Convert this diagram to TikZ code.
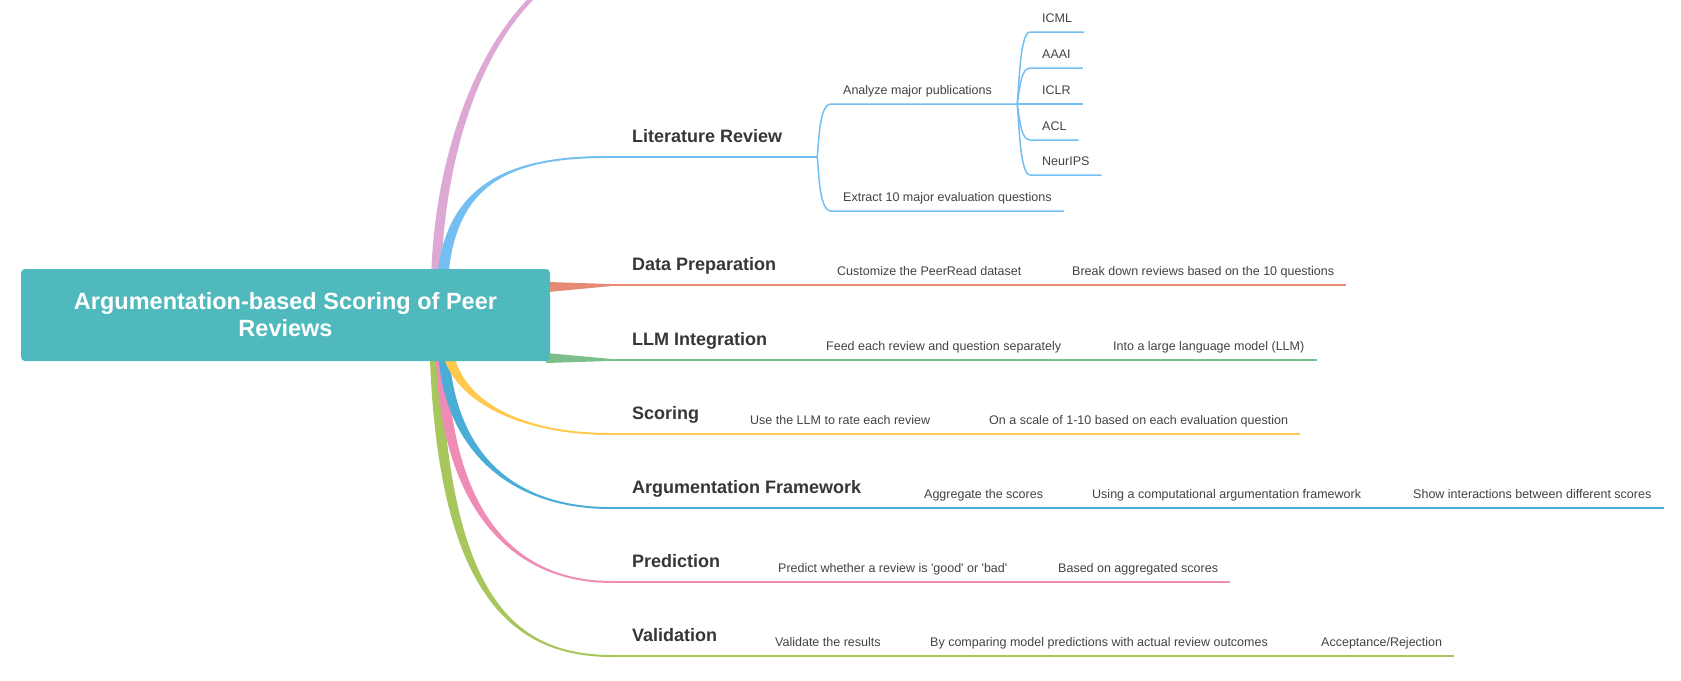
\documentclass[tikz,border=0pt]{standalone}
\usepackage{fontspec}
\setmainfont{Liberation Sans}
\usetikzlibrary{calc}

\definecolor{rootC}{HTML}{4FB9BD}
\definecolor{textC}{HTML}{363636}
\definecolor{leafC}{HTML}{424242}
\definecolor{orchidC}{HTML}{DDA8D3}
\definecolor{litC}{HTML}{74BFF1}
\definecolor{dataC}{HTML}{E68A74}
\definecolor{llmC}{HTML}{7DBF8C}
\definecolor{scoreC}{HTML}{FFC94F}
\definecolor{argC}{HTML}{4AADD5}
\definecolor{predC}{HTML}{EE8CB6}
\definecolor{valC}{HTML}{A7C65B}

% tapered limb: colour, start, control 1, control 2, end, half width at start, half width at end
\newcommand{\taperlimb}[7]{%
	\fill[#1] ($(#2)+({-(#6)},0)$) .. controls ($(#3)+({-(#6)},0)$) and ($(#4)+(0,{-(#7)})$) .. ($(#5)+(0,{-(#7)})$)
	-- ($(#5)+(0,#7)$) .. controls ($(#4)+(0,#7)$) and ($(#3)+(#6,0)$) .. ($(#2)+(#6,0)$) -- cycle;}

\begin{document}
\begin{tikzpicture}[x=1pt,y=-1pt,
	rootbox/.style={fill=rootC,rounded corners=4pt,text=white,font=\bfseries\fontsize{23.5}{27}\selectfont,
		align=center,minimum width=529pt,minimum height=92pt,inner sep=0pt},
	topic/.style={anchor=south west,text=textC,font=\bfseries\fontsize{18}{20}\selectfont,
		inner sep=0pt,text depth=14pt},
	leaf/.style={anchor=south west,text=leafC,font=\fontsize{12.5}{14}\selectfont,
		inner xsep=12pt,inner ysep=0pt,text depth=9.5pt},
	twig/.style={line width=1.8pt},
	thin/.style={line width=1.5pt}]
	\useasboundingbox (0,0) rectangle (1681,680);
	\clip (0,0) rectangle (1681,680);
	% Limbs out of the root
	\taperlimb{orchidC}{436,285}{438,120}{510,-50}{640,-50}{5}{2.5}
	\taperlimb{litC}{442,285}{448,190}{500,157}{606,157}{5.5}{1}
	\fill[dataC] (548,282) -- (613,284.1) -- (613,285.9) -- (548,292) -- cycle;
	\fill[llmC] (546,353) -- (613,359.1) -- (613,360.9) -- (546,363) -- cycle;
	\taperlimb{valC}{435,345}{442,600}{515,657}{615,656}{-5.5}{1}
	\taperlimb{predC}{441,345}{444,520}{520,582}{612,582}{-5.5}{1}
	\taperlimb{argC}{443,345}{448,460}{520,508}{610,508}{-5.5}{1}
	\taperlimb{scoreC}{447,345}{452,400}{520,434}{610,434}{-5.5}{1}
	% Root
	\node[rootbox] (root) at (285.5,315) {Argumentation-based Scoring of Peer\\Reviews};
	% Topics
	\node[topic] (lit) at (632,157) {Literature Review};
	\node[topic] (data) at (632,285) {Data Preparation};
	\node[topic] (llm) at (632,360) {LLM Integration};
	\node[topic] (score) at (632,434) {Scoring};
	\node[topic] (arg) at (632,508) {Argumentation Framework};
	\node[topic] (pred) at (632,582) {Prediction};
	\node[topic] (val) at (632,656) {Validation};
	% Literature review
	\coordinate (litFork) at (817,157);
	\coordinate (pubFork) at (1017,104);
	\node[leaf] (anl) at (831,104) {Analyze major publications};
	\node[leaf] (extr) at (831,211) {Extract 10 major evaluation questions};
	\draw[litC,twig] (605,157) -- (litFork);
	\draw[litC,thin] (litFork) .. controls +(2,-7) and +(-13,0) .. (anl.south west) -- (pubFork);
	\draw[litC,thin] (litFork) .. controls +(2,7) and +(-13,0) .. (extr.south west) -- (extr.south east);
	\node[leaf] (ICLR) at (1030,104) {ICLR};
	\draw[litC,thin] (pubFork) -- (ICLR.south east);
	\foreach \conf/\yy in {ICML/32,AAAI/68,ACL/140,NeurIPS/175}{
		\node[leaf] (\conf) at (1030,\yy) {\conf};
		\draw[litC,thin] (pubFork) .. controls +(2,{(\yy-104)*0.1}) and +(-11,0) .. (\conf.south west) -- (\conf.south east);
	}
	% Data preparation
	\node[leaf] (cust) at (825,285) {Customize the PeerRead dataset};
	\node[leaf] (brk) at (1060,285) {Break down reviews based on the 10 questions};
	\draw[dataC,twig] (612,285) -- (brk.south east);
	% LLM integration
	\node[leaf] (feed) at (814,360) {Feed each review and question separately};
	\node[leaf] (into) at (1101,360) {Into a large language model (LLM)};
	\draw[llmC,twig] (612,360) -- (into.south east);
	% Scoring
	\node[leaf] (rate) at (738,434) {Use the LLM to rate each review};
	\node[leaf] (scale) at (977,434) {On a scale of 1-10 based on each evaluation question};
	\draw[scoreC,twig] (608,434) -- (scale.south east);
	% Argumentation framework
	\node[leaf] (aggr) at (912,508) {Aggregate the scores};
	\node[leaf] (comp) at (1080,508) {Using a computational argumentation framework};
	\node[leaf] (inter) at (1401,508) {Show interactions between different scores};
	\draw[argC,twig] (608,508) -- (inter.south east);
	% Prediction
	\node[leaf] (good) at (766,582) {Predict whether a review is \textquotesingle good\textquotesingle{} or \textquotesingle bad\textquotesingle};
	\node[leaf] (aggsc) at (1046,582) {Based on aggregated scores};
	\draw[predC,twig] (610,582) -- (aggsc.south east);
	% Validation
	\node[leaf] (valres) at (763,656) {Validate the results};
	\node[leaf] (cmp) at (918,656) {By comparing model predictions with actual review outcomes};
	\node[leaf] (acc) at (1309,656) {Acceptance/Rejection};
	\draw[valC,twig] (613,656) -- (acc.south east);
\end{tikzpicture}
\end{document}
